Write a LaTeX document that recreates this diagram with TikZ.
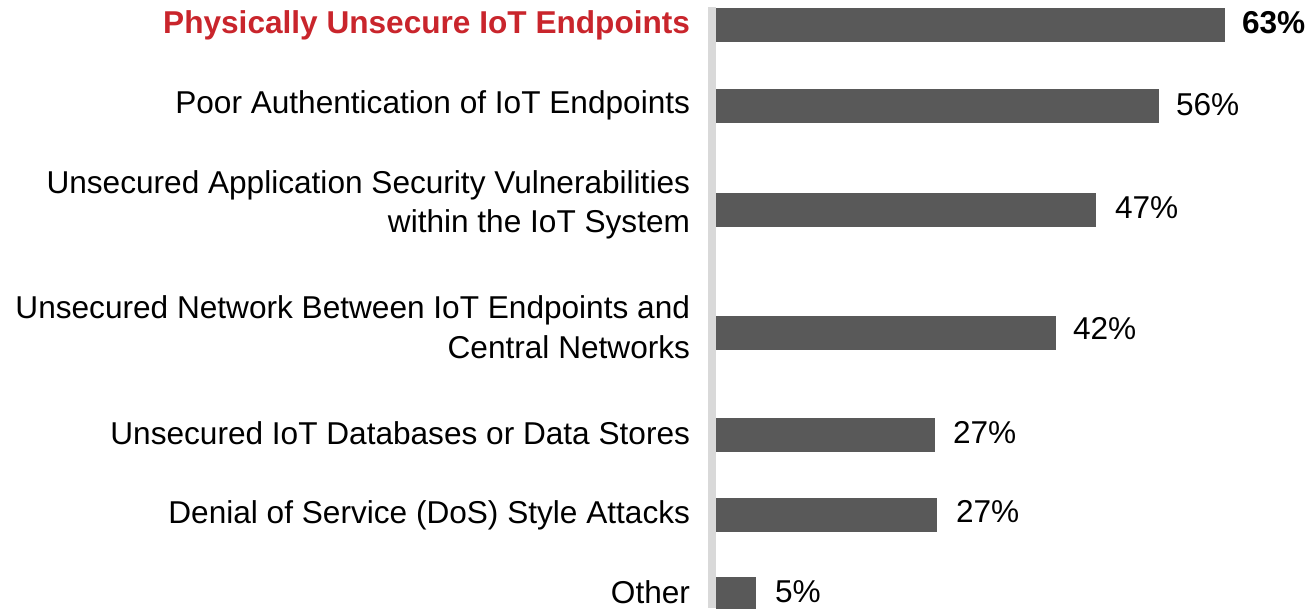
\documentclass[tikz,border=0pt]{standalone}
\usepackage{fontspec}
\setmainfont{Liberation Sans}
\definecolor{barfill}{HTML}{595959}
\definecolor{axisgray}{HTML}{D9D9D9}
\definecolor{accent}{HTML}{C9252C}
\begin{document}
\begin{tikzpicture}[x=1pt,y=-1pt,
  every node/.style={inner sep=0pt, outer sep=0pt},
  txt/.style={font=\fontsize{31.6}{40}\selectfont, text=black},
  boldtxt/.style={font=\fontsize{31.6}{40}\selectfont\bfseries},
  catlabel/.style={txt, anchor=base east},
  valuelabel/.style={txt, anchor=base west},
  bar/.style={fill=barfill, draw=none, anchor=west, minimum height=34pt}]
\useasboundingbox (0,0) rectangle (1312,608);
% vertical axis
\fill[axisgray] (708,7) rectangle (716,608);
% bars: width proportional to the value
\node[bar, minimum width=509pt] (b1) at (716,25) {};
\node[bar, minimum width=443pt] (b2) at (716,106) {};
\node[bar, minimum width=380pt] (b3) at (716,210) {};
\node[bar, minimum width=340pt] (b4) at (716,333) {};
\node[bar, minimum width=219pt] (b5) at (716,435) {};
\node[bar, minimum width=221pt] (b6) at (716,515) {};
\node[bar, minimum width=40pt]  (b7) at (716,594) {};
% value labels
\node[valuelabel, boldtxt] (v1) at (1242,33) {63\%};
\node[valuelabel] (v2) at (1176,115) {56\%};
\node[valuelabel] (v3) at (1115,218) {47\%};
\node[valuelabel] (v4) at (1073,339) {42\%};
\node[valuelabel] (v5) at (953,443) {27\%};
\node[valuelabel] (v6) at (956,522) {27\%};
\node[valuelabel] (v7) at (775,602) {5\%};
% category labels
\node[catlabel, boldtxt, text=accent] (c1) at (690,33) {Physically Unsecure IoT Endpoints};
\node[catlabel] (c2) at (690,113) {Poor Authentication of IoT Endpoints};
\node[catlabel] (c3a) at (690,193) {Unsecured Application Security Vulnerabilities};
\node[catlabel] (c3b) at (690,232) {within the IoT System};
\node[catlabel] (c4a) at (690,318) {Unsecured Network Between IoT Endpoints and};
\node[catlabel] (c4b) at (690,358) {Central Networks};
\node[catlabel] (c5) at (690,444) {Unsecured IoT Databases or Data Stores};
\node[catlabel] (c6) at (690,523) {Denial of Service (DoS) Style Attacks};
\node[catlabel] (c7) at (690,603) {Other};
\end{tikzpicture}
\end{document}
